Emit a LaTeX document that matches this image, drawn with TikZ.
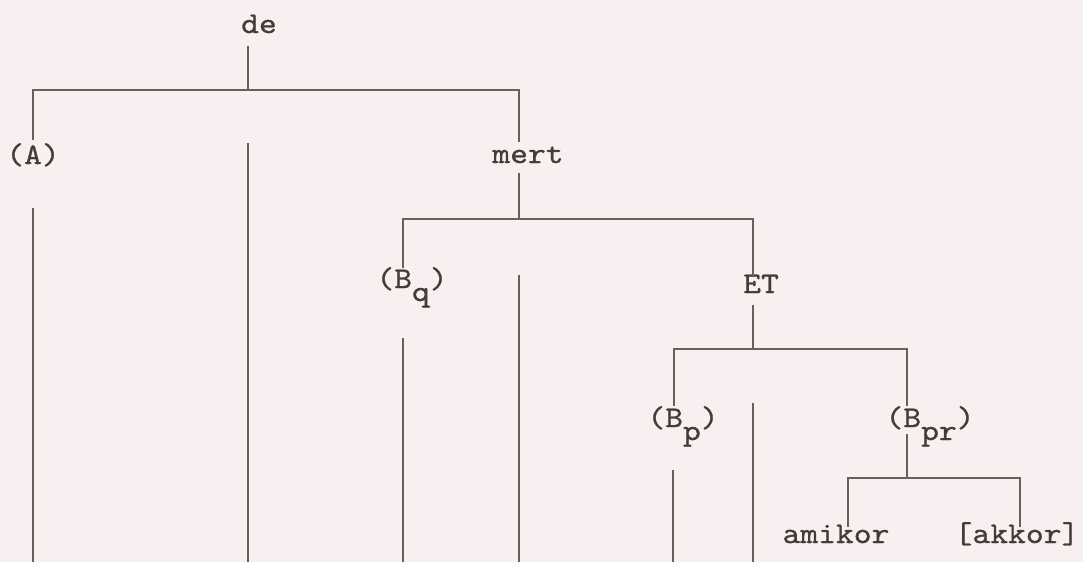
\documentclass[tikz,border=0pt]{standalone}
\usepackage{fontspec}
\newfontfamily\tw{lmmono10-regular.otf}[FakeStretch=1.13,FakeBold=0.8]
\definecolor{bg}{HTML}{F8F0F0}
\definecolor{ink}{HTML}{463A3A}
\definecolor{lc}{HTML}{6A5E5E}
\newcommand\lowr[1]{\raisebox{-13pt}{#1}}
\begin{document}
\begin{tikzpicture}[x=1pt,y=-1pt,
  lbl/.style={font=\tw\fontsize{30}{32}\selectfont, text=ink, inner sep=0pt, anchor=base},
  ln/.style={draw=lc, line width=1.7pt}]
\fill[bg] (0,0) rectangle (1083,562);
\useasboundingbox (0,0) rectangle (1083,562);
% labels
\node[lbl] (de)   at (259,33)  {de};
\node[lbl] (A)    at (33,164)  {(A)};
\node[lbl] (mert) at (528,163) {mert};
\node[lbl] (Bq)   at (412,288) {(B\lowr{q})};
\node[lbl] (ET)   at (761,293) {ET};
\node[lbl] (Bp)   at (683,427) {(B\lowr{p})};
\node[lbl] (Bpr)  at (930,427) {(B\lowr{pr})};
\node[lbl] (ami)  at (836,543) {amikor};
\node[lbl] (akk)  at (1017,543) {[akkor]};
% junction points
\coordinate (deB)   at (248,46);
\coordinate (j1)    at (248,90);
\coordinate (At)    at (33,140);
\coordinate (mertT) at (519,142);
\coordinate (mertB) at (519,173);
\coordinate (j2)    at (519,219);
\coordinate (BqT)   at (403,268);
\coordinate (ETT)   at (753,277);
\coordinate (ETB)   at (753,305);
\coordinate (j3)    at (753,349);
\coordinate (BpT)   at (674,406);
\coordinate (BprT)  at (907,406);
\coordinate (BprB)  at (907,434);
\coordinate (j4)    at (907,478);
\coordinate (amiT)  at (848,527);
\coordinate (akkT)  at (1020,527);
% tree connectors
\draw[ln] (deB) -- (j1);
\draw[ln] (At) |- (j1) -| (mertT);
\draw[ln] (mertB) -- (j2);
\draw[ln] (BqT) |- (j2) -| (ETT);
\draw[ln] (ETB) -- (j3);
\draw[ln] (BpT) |- (j3) -| (BprT);
\draw[ln] (BprB) -- (j4);
\draw[ln] (amiT) |- (j4) -| (akkT);
% long vertical lines
\coordinate (v1t) at (33,208);  \coordinate (v1b) at (33,562);
\coordinate (v2t) at (248,143); \coordinate (v2b) at (248,562);
\coordinate (v3t) at (519,275); \coordinate (v3b) at (519,562);
\coordinate (v4t) at (403,338); \coordinate (v4b) at (403,562);
\coordinate (v5t) at (753,403); \coordinate (v5b) at (753,562);
\coordinate (v6t) at (673,470); \coordinate (v6b) at (673,562);
\draw[ln] (v1t) -- (v1b);
\draw[ln] (v2t) -- (v2b);
\draw[ln] (v3t) -- (v3b);
\draw[ln] (v4t) -- (v4b);
\draw[ln] (v5t) -- (v5b);
\draw[ln] (v6t) -- (v6b);
\end{tikzpicture}
\end{document}
